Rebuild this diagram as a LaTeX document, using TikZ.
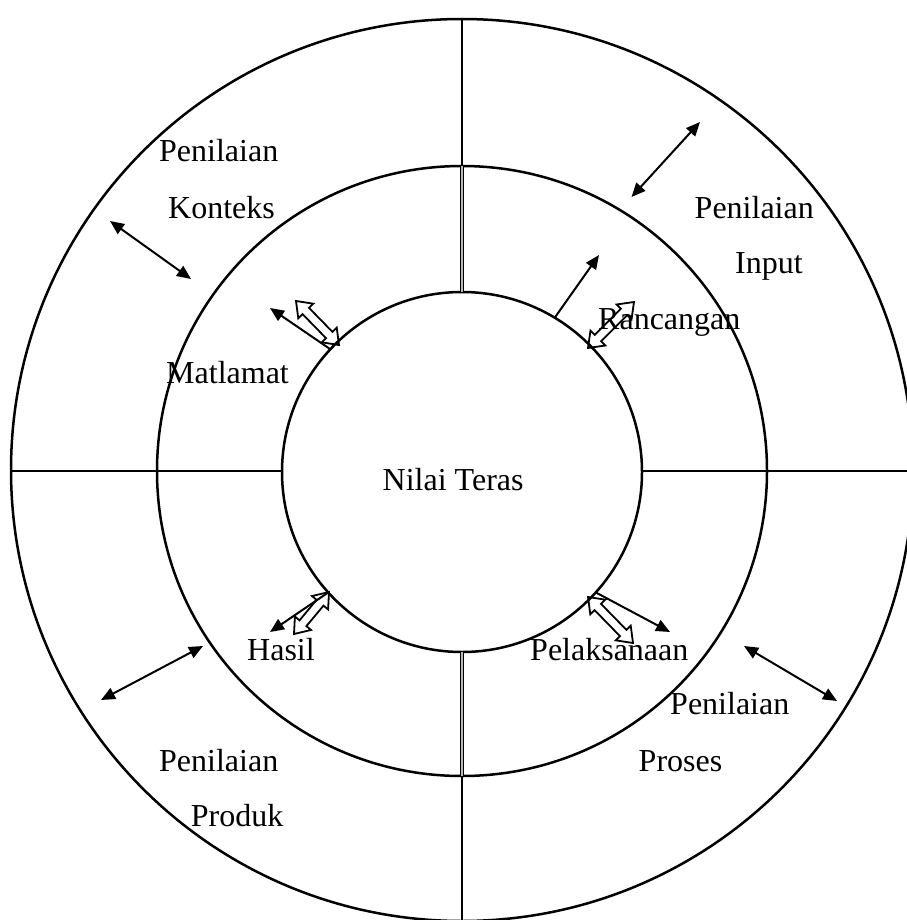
\documentclass[tikz,border=0pt]{standalone}
\usepackage{fontspec}
\setmainfont{Liberation Serif}
\usetikzlibrary{arrows.meta,calc}
\newcommand\hlen{14pt}
\newcommand\hwid{10.5pt}
\newcommand\swid{4.5pt}
\newcommand\hollowdbl[2]{%
  \draw[hollow] let \p1=(#1), \p2=(#2), \n1={atan2(\y2-\y1,\x2-\x1)} in
    (\p1) -- ($(\p1)+(\n1:\hlen)+(\n1+90:\hwid)$) -- ($(\p1)+(\n1:\hlen)+(\n1+90:\swid)$)
    -- ($(\p2)+(\n1+180:\hlen)+(\n1+90:\swid)$) -- ($(\p2)+(\n1+180:\hlen)+(\n1+90:\hwid)$)
    -- (\p2) -- ($(\p2)+(\n1+180:\hlen)+(\n1-90:\hwid)$) -- ($(\p2)+(\n1+180:\hlen)+(\n1-90:\swid)$)
    -- ($(\p1)+(\n1:\hlen)+(\n1-90:\swid)$) -- ($(\p1)+(\n1:\hlen)+(\n1-90:\hwid)$) -- cycle;}
\begin{document}
\begin{tikzpicture}[x=1pt,y=-1pt,
  ring/.style={circle,draw,line width=2.5pt,inner sep=0pt,outer sep=0pt},
  divider/.style={line width=2pt},
  thindivider/.style={line width=1.4pt},
  dbldivider/.style={double=gray!55,double distance=1.6pt,line width=1.4pt},
  lbl/.style={inner sep=0pt,anchor=base west,font=\fontsize{32}{38}\selectfont},
  arr/.style={line width=2pt,-{Triangle[length=14pt,width=12pt]}},
  darr/.style={line width=2pt,{Triangle[length=14pt,width=12pt]}-{Triangle[length=14pt,width=12pt]}},
  hollow/.style={line width=1.8pt,line join=miter}]
\fill[white] (0,0) rectangle (906,920);
\useasboundingbox (0,0) rectangle (906,920);
% rings
\node[ring,minimum size=902pt] (outer) at (462,470) {};
\node[ring,minimum size=610pt] (middle) at (462,471) {};
\node[ring,minimum size=360pt] (inner) at (462,472) {};
% dividers
\coordinate (hl) at (outer.west |- 0,471);
\coordinate (hr) at (outer.east |- 0,471);
\draw[divider] (hl) -- (inner.west |- hl);
\draw[divider] (inner.east |- hr) -- (hr);
\draw[thindivider] (outer.north) -- (middle.north);
\draw[dbldivider] (middle.north) -- (inner.north);
\draw[dbldivider] (inner.south) -- (middle.south);
\draw[thindivider] (middle.south) -- (outer.south);
% labels
\node[lbl] (pk) at (159,161) {Penilaian};
\node[lbl] (kon) at (168,218) {Konteks};
\node[lbl] (pi) at (694.5,218) {Penilaian};
\node[lbl] (inp) at (735,273) {Input};
\node[lbl] (ran) at (598,329) {Rancangan};
\node[lbl] (mat) at (166,383) {Matlamat};
\node[lbl] (nt) at (382.5,490) {Nilai Teras};
\node[lbl] (has) at (247,660) {Hasil};
\node[lbl] (pel) at (530,660) {Pelaksanaan};
\node[lbl] (pp) at (670,714.5) {Penilaian};
\node[lbl] (pro) at (638.5,771) {Proses};
\node[lbl] (pd) at (159,771) {Penilaian};
\node[lbl] (prd) at (190.7,826) {Produk};
% outer double arrows
\coordinate (k1) at (110,221); \coordinate (k2) at (191,279);
\coordinate (i1) at (700,122); \coordinate (i2) at (631.5,197);
\coordinate (d1) at (101,700); \coordinate (d2) at (203,646);
\coordinate (s1) at (744,646); \coordinate (s2) at (837,701);
\draw[darr] (k1) -- (k2);
\draw[darr] (i1) -- (i2);
\draw[darr] (d1) -- (d2);
\draw[darr] (s1) -- (s2);
% single arrows from the core
\coordinate (mt) at (270,308);
\coordinate (rt) at (599,255);
\coordinate (ht) at (270,632);
\coordinate (lt) at (670,632);
\draw[arr] (inner.137) -- (mt);
\draw[arr] (inner.59.3) -- (rt);
\draw[arr] (inner.222.5) -- (ht);
\draw[arr] (inner.318.3) -- (lt);
% hollow double arrows
\coordinate (ma) at (339,345); \coordinate (mb) at (296,301);
\coordinate (ra) at (588,348); \coordinate (rb) at (634,302);
\coordinate (ha) at (329,592); \coordinate (hb) at (294,634);
\coordinate (la) at (588,597); \coordinate (lb) at (633,643);
\hollowdbl{ma}{mb}
\hollowdbl{ra}{rb}
\hollowdbl{ha}{hb}
\hollowdbl{la}{lb}
\end{tikzpicture}
\end{document}
